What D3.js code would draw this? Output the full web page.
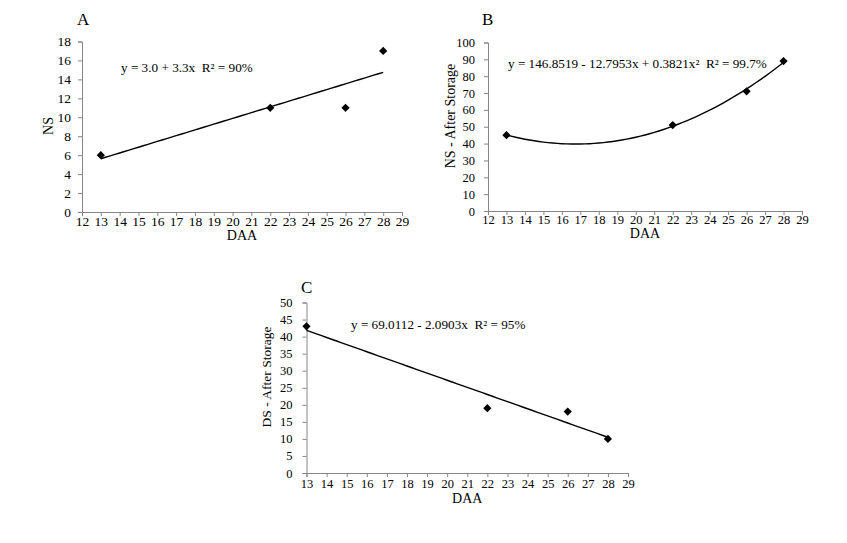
<!DOCTYPE html>
<html>
<head>
<meta charset="utf-8">
<script src="https://cdn.jsdelivr.net/npm/d3@7"></script>
<style>
  body { margin: 0; background: #fff; }
  svg text { font-family: "Liberation Serif", "Times New Roman", serif !important; }
</style>
</head>
<body>
<svg id="chart" width="847" height="543"></svg>
<script>
// ---- data ----
const daa = [13, 22, 26, 28];
const nsValues = [6, 11, 11, 17];
const nsAfterStorage = [45, 51, 71, 89];
const dsAfterStorage = [43, 19, 18, 10];

const xTicksAB = [12,13,14,15,16,17,18,19,20,21,22,23,24,25,26,27,28,29];
const xTicksC = [13,14,15,16,17,18,19,20,21,22,23,24,25,26,27,28,29];
const yTicksA = [0,2,4,6,8,10,12,14,16,18];
const yTicksB = [0,10,20,30,40,50,60,70,80,90,100];
const yTicksC = [0,5,10,15,20,25,30,35,40,45,50];

const panelLetters = ["A", "B", "C"];
const yTitles = ["NS", "NS - After Storage", "DS - After Storage"];
const xTitle = "DAA";
const equations = [
  "y = 3.0 + 3.3x  R² = 90%",
  "y = 146.8519 - 12.7953x + 0.3821x²  R² = 99.7%",
  "y = 69.0112 - 2.0903x  R² = 95%"
];

// least squares polynomial fit (trendline, as the spreadsheet computes it)
function polyfit(xs, ys, deg) {
  const n = deg + 1;
  const A = Array.from({length: n}, () => new Array(n + 1).fill(0));
  for (let r = 0; r < n; r++) {
    for (let c = 0; c < n; c++) A[r][c] = d3.sum(xs, x => Math.pow(x, r + c));
    A[r][n] = d3.sum(xs, (x, i) => Math.pow(x, r) * ys[i]);
  }
  for (let i = 0; i < n; i++) {
    let p = i;
    for (let k = i + 1; k < n; k++) if (Math.abs(A[k][i]) > Math.abs(A[p][i])) p = k;
    [A[i], A[p]] = [A[p], A[i]];
    for (let k = 0; k < n; k++) {
      if (k === i) continue;
      const f = A[k][i] / A[i][i];
      for (let c = i; c <= n; c++) A[k][c] -= f * A[i][c];
    }
  }
  return A.map((row, i) => row[n] / row[i]);
}

const svg = d3.select("#chart");
const axisColor = "#868686";
const serif = "Liberation Serif";

function drawPanel(cfg) {
  const x = d3.scaleLinear().domain(cfg.xDomain).range([cfg.left, cfg.right]);
  const y = d3.scaleLinear().domain(cfg.yDomain).range([cfg.bottom, cfg.top]);
  const g = svg.append("g").attr("font-family", serif);

  // x axis
  const xa = g.append("g").attr("transform", `translate(0,${cfg.bottom})`)
    .call(d3.axisBottom(x).tickValues(cfg.xTicks).tickSize(4).tickPadding(cfg.xPad).tickFormat(d3.format("d")));
  // y axis
  const ya = g.append("g").attr("transform", `translate(${cfg.left},0)`)
    .call(d3.axisLeft(y).tickValues(cfg.yTicks).tickSize(4).tickPadding(cfg.yPad).tickFormat(d3.format("d")));
  [xa, ya].forEach(a => {
    a.attr("font-family", serif).attr("font-size", cfg.tickSize);
    a.select(".domain").attr("stroke", axisColor).attr("stroke-width", 1);
    a.selectAll(".tick line").attr("stroke", axisColor);
    a.selectAll(".tick text").attr("fill", "#000");
  });

  // trendline
  const coef = polyfit(daa, cfg.values, cfg.degree);
  const f = t => coef.reduce((s, c, i) => s + c * Math.pow(t, i), 0);
  const xs = d3.range(0, 61).map(i => d3.min(daa) + (d3.max(daa) - d3.min(daa)) * i / 60);
  g.append("path")
    .attr("d", d3.line().x(d => x(d)).y(d => y(f(d)))(xs))
    .attr("fill", "none").attr("stroke", "#000").attr("stroke-width", 1.4);

  // markers
  g.selectAll(".pt").data(daa.map((d, i) => [d, cfg.values[i]])).enter()
    .append("path")
    .attr("d", d3.symbol().type(d3.symbolSquare).size(34))
    .attr("transform", d => `translate(${x(d[0])},${y(d[1])}) rotate(45)`)
    .attr("fill", "#000");

  // panel letter
  g.append("text").attr("x", cfg.letterX).attr("y", cfg.letterY)
    .attr("font-size", 17).text(cfg.letter);

  // equation
  g.append("text").attr("x", cfg.eqX).attr("y", cfg.eqY)
    .attr("font-size", 13.2).style("white-space", "pre").text(cfg.equation);

  // axis titles
  g.append("text").attr("x", (cfg.left + cfg.right) / 2).attr("y", cfg.bottom + cfg.xTitleOff)
    .attr("text-anchor", "middle").attr("font-size", 14).text(xTitle);
  g.append("text")
    .attr("transform", `translate(${cfg.yTitleX},${cfg.yTitleY}) rotate(-90)`)
    .attr("text-anchor", "middle").attr("font-size", cfg.yTitleSize).text(cfg.yTitle);
}

drawPanel({
  left: 82, right: 402, top: 41.5, bottom: 212,
  xDomain: [12, 29], yDomain: [0, 18], xTicks: xTicksAB, yTicks: yTicksA,
  values: nsValues, degree: 1, tickSize: 13.5, xPad: 0, yPad: 7,
  letter: panelLetters[0], letterX: 77, letterY: 25,
  equation: equations[0], eqX: 121, eqY: 71.5,
  yTitle: yTitles[0], yTitleX: 52.5, yTitleY: 126, yTitleSize: 14, xTitleOff: 27.5
});
drawPanel({
  left: 488, right: 802, top: 42.5, bottom: 211,
  xDomain: [12, 29], yDomain: [0, 100], xTicks: xTicksAB, yTicks: yTicksB,
  values: nsAfterStorage, degree: 2, tickSize: 12.5, xPad: 0, yPad: 9,
  letter: panelLetters[1], letterX: 482, letterY: 25,
  equation: equations[1], eqX: 508, eqY: 68,
  yTitle: yTitles[1], yTitleX: 454.5, yTitleY: 116, yTitleSize: 14, xTitleOff: 26.5
});
drawPanel({
  left: 306.5, right: 628, top: 302.5, bottom: 473,
  xDomain: [13, 29], yDomain: [0, 50], xTicks: xTicksC, yTicks: yTicksC,
  values: dsAfterStorage, degree: 1, tickSize: 12.5, xPad: 2, yPad: 10,
  letter: panelLetters[2], letterX: 301, letterY: 293,
  equation: equations[2], eqX: 351, eqY: 329,
  yTitle: yTitles[2], yTitleX: 270.5, yTitleY: 377, yTitleSize: 13.5, xTitleOff: 29.5
});
</script>
</body>
</html>
